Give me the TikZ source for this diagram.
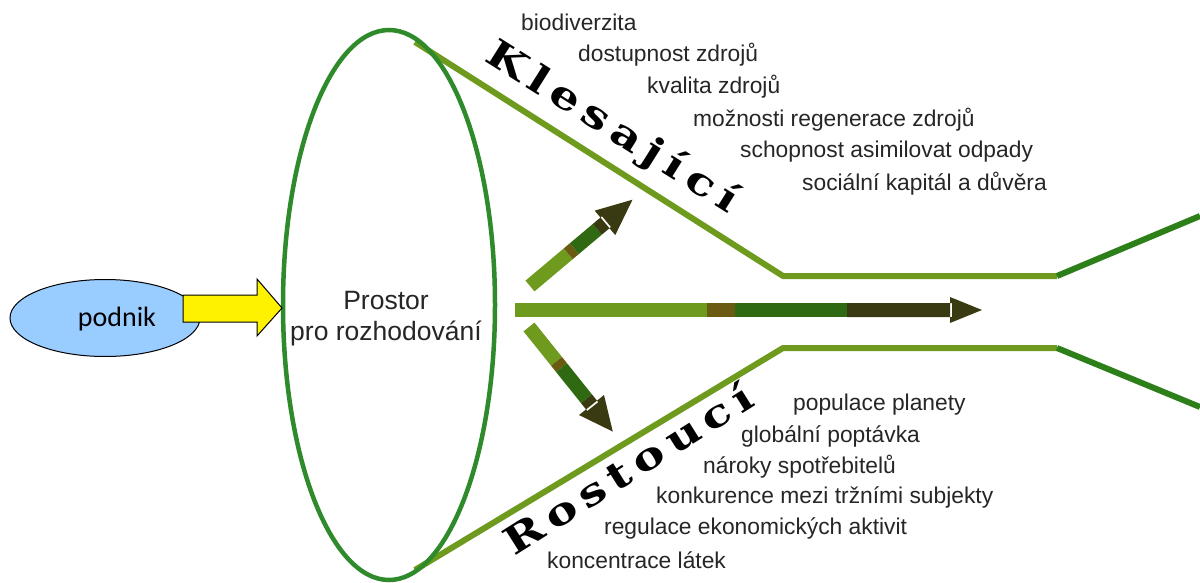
\documentclass[tikz,border=0pt]{standalone}
\usepackage{fontspec}
\setmainfont{Liberation Sans}
\newfontfamily\calfont{Carlito}
\newfontfamily\slabfont[LetterSpace=16]{DejaVu Serif}
\usetikzlibrary{shapes.geometric,shapes.arrows}
\definecolor{ellgreen}{HTML}{2E8A2A}
\definecolor{olive}{HTML}{6E9B1E}
\definecolor{brownish}{HTML}{6B5B12}
\definecolor{dkgreen}{HTML}{2F6A12}
\definecolor{darkest}{HTML}{3A3A12}
\definecolor{rgreen}{HTML}{2D7F1A}
\definecolor{podblue}{HTML}{99CCFF}
\tikzset{
  listtext/.style={anchor=west, inner sep=0pt, font=\fontsize{22.8}{24}\selectfont, text=black!85},
  funnel/.style={olive, line width=6pt, line join=round},
  flare/.style={rgreen, line width=6pt},
  bigword/.style={inner sep=0pt, font=\slabfont\bfseries\fontsize{38}{40}\selectfont, xscale=1.25},
}
\begin{document}
\begin{tikzpicture}[x=1pt,y=-1pt]
\useasboundingbox (0,0) rectangle (1200,583);
\fill[white] (0,0) rectangle (1200,583);

% funnel lines
\coordinate (u0) at (415,42);
\coordinate (u1) at (783,276);
\coordinate (u2) at (1057,276);
\coordinate (u3) at (1200,216);
\coordinate (l0) at (415,570);
\coordinate (l1) at (783,348);
\coordinate (l2) at (1057,348);
\coordinate (l3) at (1200,407);
\draw[funnel] (u0) -- (u1) -- (u2);
\draw[funnel] (l0) -- (l1) -- (l2);
\draw[flare] (u2) -- (u3);
\draw[flare] (l2) -- (l3);

% decision space ellipse
\node[draw=ellgreen, line width=4.5pt, ellipse, minimum width=212pt, minimum height=550pt, inner sep=0pt] (space) at (389,305) {};
\node[align=center, font=\fontsize{26.5}{31}\selectfont, text=black!85] (spacetxt) at (386,319) {Prostor\\pro rozhodování};

% podnik
\node[draw=black, line width=1pt, fill=podblue, ellipse, minimum width=190pt, minimum height=77pt, inner sep=0pt] (podnik) at (105,318) {};
\node[font=\calfont\fontsize{28}{30}\selectfont] (podniktxt) at (117,319) {podnik};
\coordinate (ytail) at (183,308);
\coordinate (ytip) at (282,308);
\fill[yellow, draw=black, line width=1pt] (183,295) -- (257,295) -- (257,279) -- (282,308) -- (257,336) -- (257,322) -- (183,322) -- cycle;

% center arrow
\fill[olive] (515,303) rectangle (707,317);
\fill[brownish] (707,303) rectangle (735,317);
\fill[dkgreen] (735,303) rectangle (847,317);
\fill[darkest] (847,303) rectangle (952,317) (950,297) -- (982,310) -- (950,323) -- cycle;

% upper diagonal arrow
\begin{scope}[shift={(530,286)}, rotate=40.1]
\fill[olive] (0,-7) rectangle (50,7);
\fill[brownish] (50,-7) rectangle (58,7);
\fill[dkgreen] (58,-7) rectangle (88,7);
\fill[darkest] (88,-7) rectangle (100,7) (98,-16) -- (134,0) -- (98,16) -- cycle;
\end{scope}
% lower diagonal arrow
\begin{scope}[shift={(529,327)}, rotate=-51.3]
\fill[olive] (0,-7) rectangle (44,7);
\fill[brownish] (44,-7) rectangle (52,7);
\fill[dkgreen] (52,-7) rectangle (92,7);
\fill[darkest] (92,-7) rectangle (102,7) (100,-16) -- (134,0) -- (100,16) -- cycle;
\end{scope}

% rotated words
\node[rotate=-32.2, bigword] (kles) at (612,128) {Klesající};
\node[rotate=32.2, bigword] (rost) at (628,468) {Rostoucí};

% upper list
\node[listtext] (t1) at (521,22) {biodiverzita};
\node[listtext] (t2) at (578,55) {dostupnost zdrojů};
\node[listtext] (t3) at (647,87) {kvalita zdrojů};
\node[listtext] (t4) at (693,120) {možnosti regenerace zdrojů};
\node[listtext] (t5) at (740,152) {schopnost asimilovat odpady};
\node[listtext] (t6) at (802,184) {sociální kapitál a důvěra};
% lower list
\node[listtext] (b1) at (793,405) {populace planety};
\node[listtext] (b2) at (741,436) {globální poptávka};
\node[listtext] (b3) at (703,467) {nároky spotřebitelů};
\node[listtext] (b4) at (656,497) {konkurence mezi tržními subjekty};
\node[listtext] (b5) at (604,528) {regulace ekonomických aktivit};
\node[listtext] (b6) at (547,560) {koncentrace látek};
\end{tikzpicture}
\end{document}
